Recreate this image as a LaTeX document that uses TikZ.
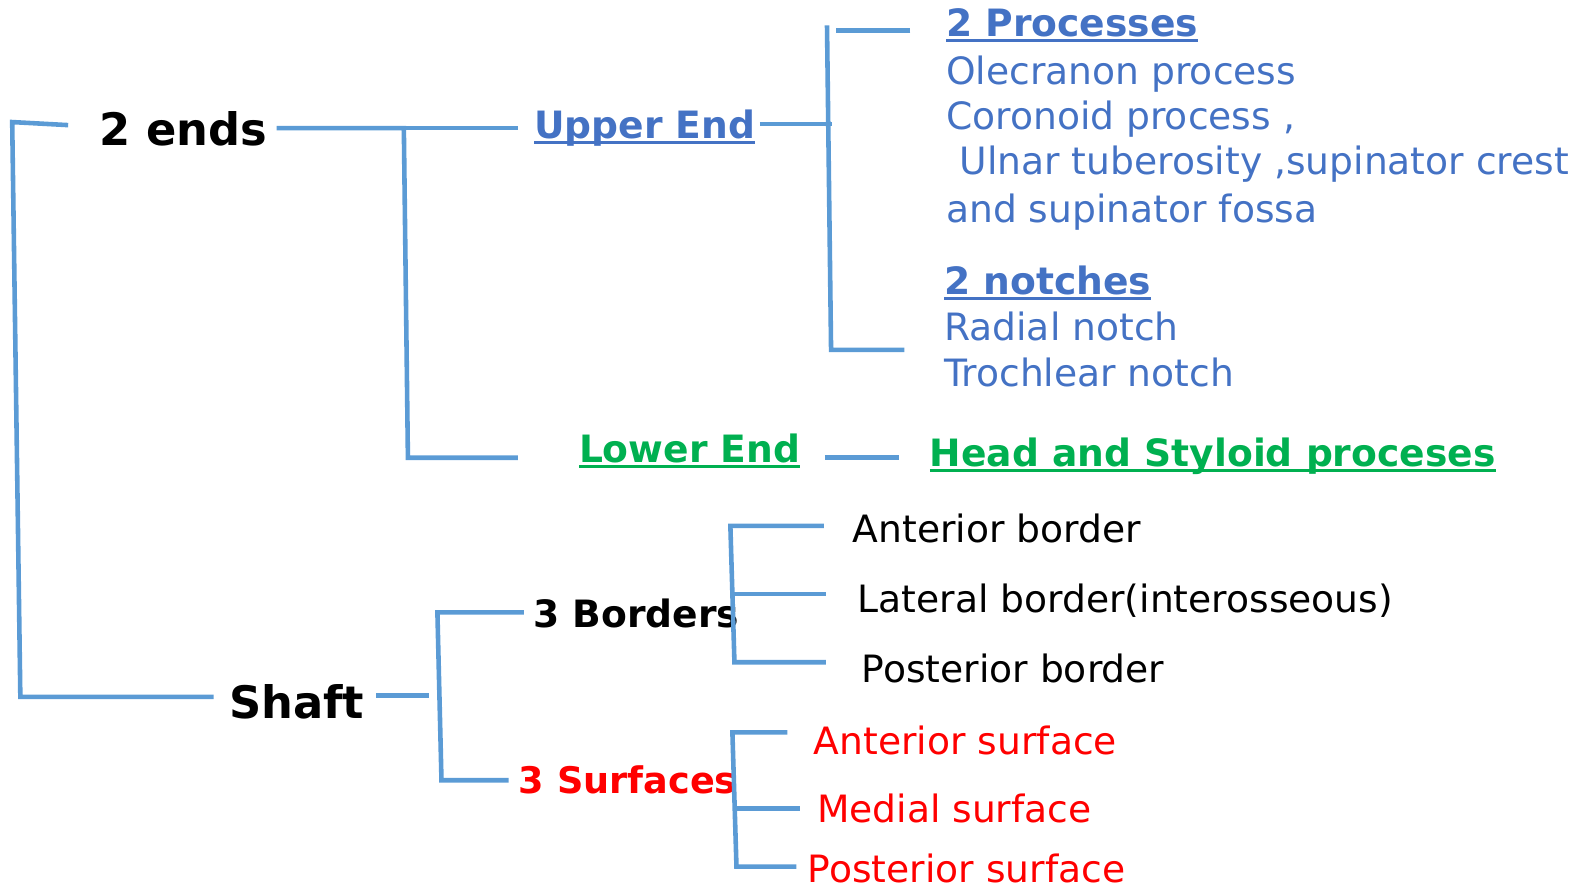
\documentclass[tikz,border=0pt]{standalone}
\usepackage{fontspec}
\setmainfont{DejaVu Sans}
\usetikzlibrary{positioning}

\definecolor{linkblue}{HTML}{5B9BD5}
\definecolor{txtblue}{HTML}{4472C4}
\definecolor{txtgreen}{HTML}{00B050}
\definecolor{txtred}{HTML}{FF0000}
\newcommand\undl[1]{\setbox0\hbox{#1}\rlap{\rule[-0.14em]{\wd0}{0.08em}}\box0}

\begin{document}
\begin{tikzpicture}
	[x=1pt, y=-1pt,
	br/.style = {draw=linkblue, line width=4.5pt},
	lbl/.style = {anchor=base west, inner sep=0pt, font=\fontsize{37}{44}\selectfont},
	hd/.style = {lbl, font=\fontsize{37}{44}\selectfont\bfseries},
	big/.style = {lbl, font=\fontsize{44}{53}\selectfont\bfseries}]
	\useasboundingbox (0,0) rectangle (1568,875);
	\node[big] (ends) at (98,143) {2 ends};
	\node[big] (shaft) at (225,706) {Shaft};
	\node[hd, txtblue] (upper) at (525,136) {\undl{Upper End}};
	\node[hd, txtgreen] (lower) at (569,455) {\undl{Lower End}};
	\node[hd, txtgreen] (head) at (914,459) {\undl{Head and Styloid proceses}};
	% upper end details
	\node[hd, txtblue] (procs) at (930,36) {\undl{2 Processes}};
	\node[lbl, txtblue] (p1) at (930,83) {Olecranon process};
	\node[lbl, txtblue] (p2) at (930,127) {Coronoid process ,};
	\node[lbl, txtblue] (p3) at (943,172) {Ulnar tuberosity ,supinator crest};
	\node[lbl, txtblue] (p4) at (930,219) {and supinator fossa};
	\node[hd, txtblue] (notch) at (928,290) {\undl{2 notches}};
	\node[lbl, txtblue] (n1) at (928,335) {Radial notch};
	\node[lbl, txtblue] (n2) at (928,380) {Trochlear notch};
	% shaft details
	\node[hd] (bord) at (524,617) {3 Borders};
	\node[hd, txtred, font=\fontsize{36}{44}\selectfont\bfseries] (surf) at (510,780) {3 Surfaces};
	\node[lbl] (b1) at (838,533) {Anterior border};
	\node[lbl] (b2) at (843,602) {Lateral border(interosseous)};
	\node[lbl] (b3) at (847,671) {Posterior border};
	\node[lbl, txtred] (s1) at (800,742) {Anterior surface};
	\node[lbl, txtred] (s2) at (803,809) {Medial surface};
	\node[lbl, txtred] (s3) at (794,868) {Posterior surface};

	% bracket corners
	\coordinate (r0) at (67,123);
	\coordinate (r1) at (12,120);
	\coordinate (r2) at (20,685);
	\coordinate (r3) at (210,685);
	\coordinate (e0) at (272,126);
	\coordinate (e1) at (397,126);
	\coordinate (e2) at (401,450);
	\coordinate (e3) at (509,450);
	\coordinate (u0) at (509,126);
	\coordinate (u1) at (747,122);
	\coordinate (u2) at (818,122);
	\coordinate (ut) at (813,25);
	\coordinate (ub) at (817,344);
	\coordinate (ut2) at (822,30);
	\coordinate (ut3) at (895,30);
	\coordinate (ub2) at (889,344);
	\coordinate (l0) at (811,450);
	\coordinate (l1) at (884,450);
	\coordinate (s0) at (370,684);
	\coordinate (s1a) at (422,684);
	\coordinate (st) at (430,602);
	\coordinate (sb) at (434,767);
	\coordinate (st2) at (515,602);
	\coordinate (sb2) at (500,767);
	\coordinate (bt) at (718,517);
	\coordinate (bb) at (722,651);
	\coordinate (bt2) at (810,517);
	\coordinate (bm) at (722,584);
	\coordinate (bm2) at (812,584);
	\coordinate (bb2) at (812,651);
	\coordinate (ft) at (720,720);
	\coordinate (fb) at (724,852);
	\coordinate (ft2) at (774,720);
	\coordinate (fm) at (724,795);
	\coordinate (fm2) at (786,795);
	\coordinate (fb2) at (783,852);

	\draw[br] (r0) -- (r1) -- (r2) -- (r3);
	\draw[br] (e0) -- (e1) -- (e2) -- (e3);
	\draw[br] (e1) -- (u0);
	\draw[br] (u1) -- (u2);
	\draw[br] (ut3) -- (ut2);
	\draw[br] (ut) -- (ub) -- (ub2);
	\draw[br] (l0) -- (l1);
	\draw[br] (s0) -- (s1a);
	\draw[br] (st2) -- (st) -- (sb) -- (sb2);
	\draw[br] (bt2) -- (bt) -- (bb) -- (bb2);
	\draw[br] (bm) -- (bm2);
	\draw[br] (ft2) -- (ft) -- (fb) -- (fb2);
	\draw[br] (fm) -- (fm2);
\end{tikzpicture}
\end{document}
